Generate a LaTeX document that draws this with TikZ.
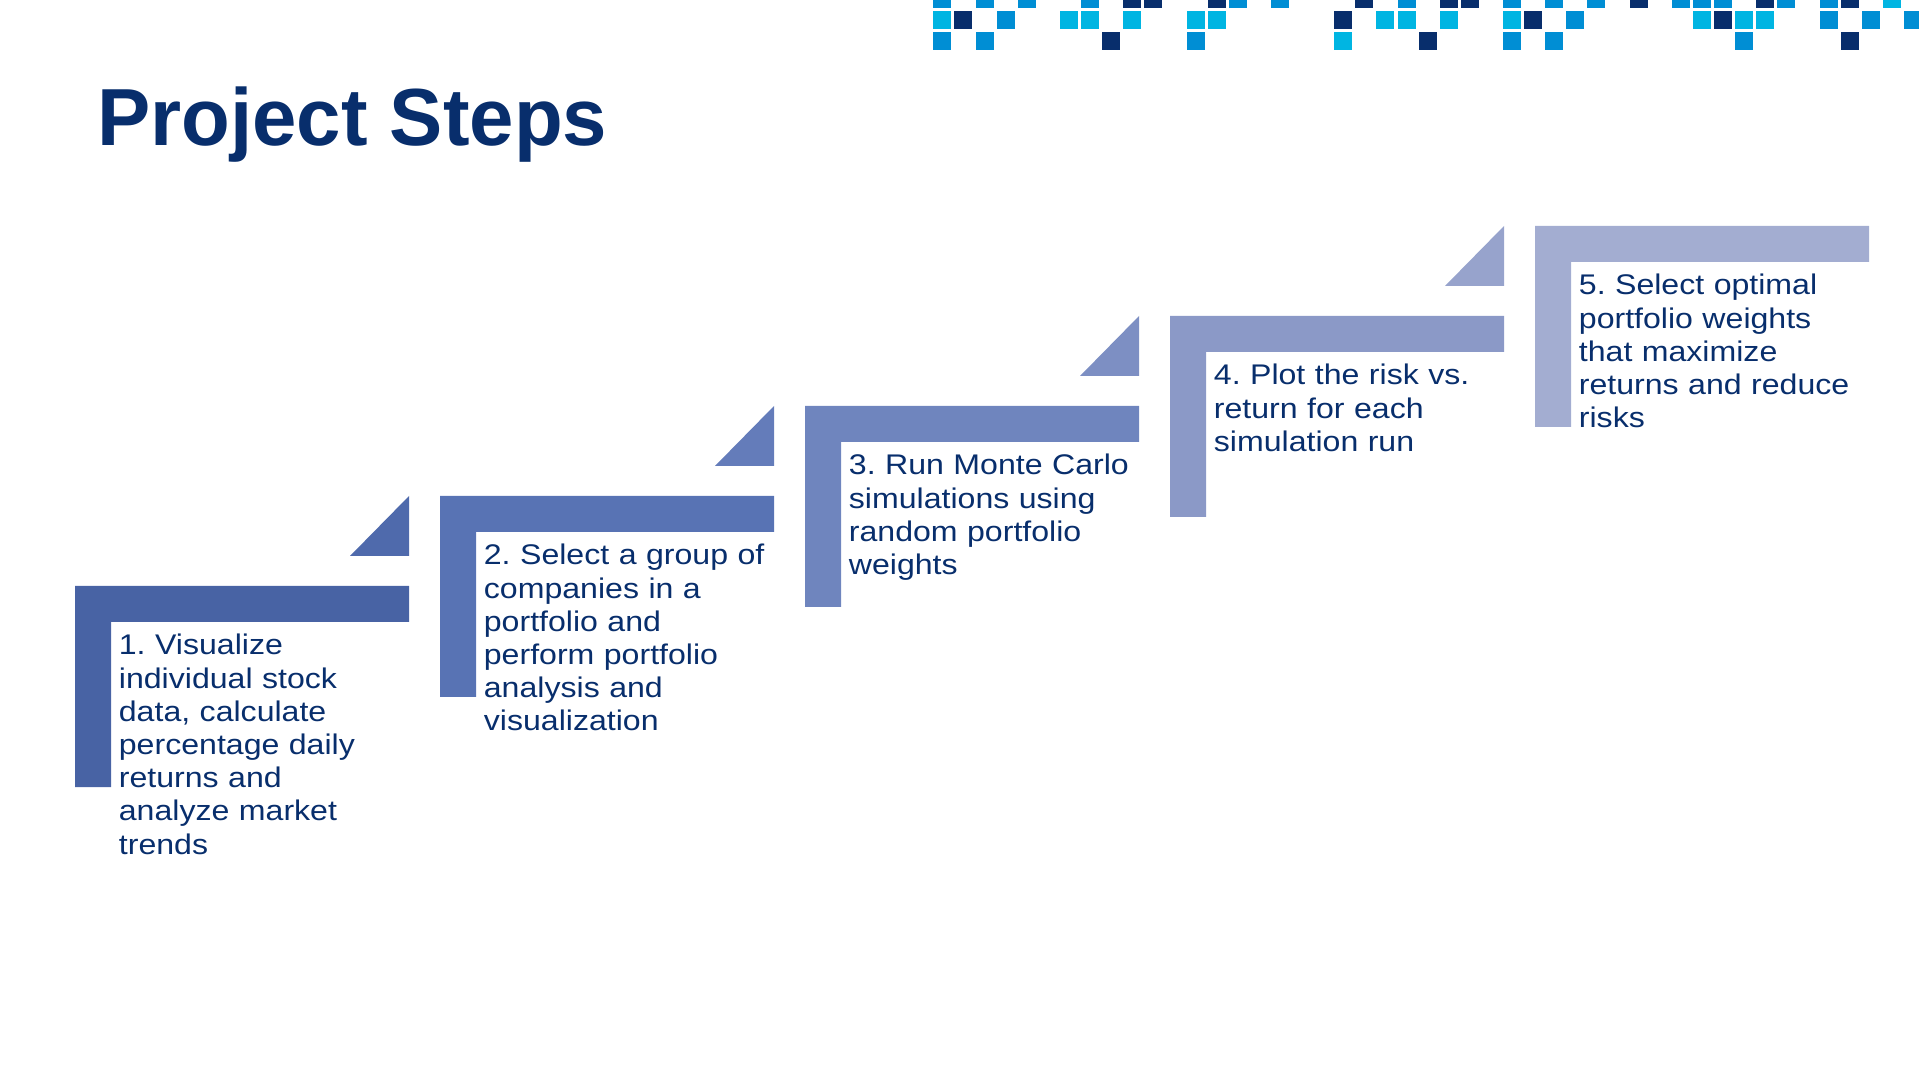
\documentclass[tikz,border=0pt]{standalone}
\usepackage{fontspec}
\setmainfont{Liberation Sans}
\newfontfamily\notefont[FakeStretch=1.13]{Liberation Sans}
\newfontfamily\headfont[FakeStretch=0.985]{Liberation Sans Bold}

\definecolor{navy}{RGB}{8,46,108}
\definecolor{pixblue}{RGB}{0,142,212}
\definecolor{pixcyan}{RGB}{0,181,226}
\definecolor{stepA}{RGB}{72,99,164}
\definecolor{triA}{RGB}{79,106,172}
\definecolor{stepB}{RGB}{88,115,180}
\definecolor{triB}{RGB}{100,124,186}
\definecolor{stepC}{RGB}{111,133,190}
\definecolor{triC}{RGB}{125,143,195}
\definecolor{stepD}{RGB}{139,153,199}
\definecolor{triD}{RGB}{151,163,204}
\definecolor{stepE}{RGB}{163,173,209}

\tikzset{
  stepnote/.style={anchor=base west, inner sep=0pt, text width=330, align=left,
    text=navy, font=\notefont\fontsize{14.2}{16.6}\selectfont},
}

\begin{document}
\frenchspacing
\begin{tikzpicture}[x=0.5pt,y=-0.5pt]
                    \useasboundingbox (0,0) rectangle (1919,1080);
                    \clip (0,0) rectangle (1919,1080);

                    % pixel band at the top
                    \foreach \c in {0,2,4,7,14,16,22,27,29,31,35,36,37,40,42}
                        \fill[pixblue] (933.3+21.1*\c,-9.7) rectangle++(18,18);
                    \foreach \c in {9,10,13,20,24,25,33,39,43}
                        \fill[navy] (933.3+21.1*\c,-9.7) rectangle++(18,18);
                    \fill[pixcyan] (933.3+21.1*45,-9.7) rectangle++(18,18);
                    \foreach \c in {0,6,7,9,12,13,21,22,24,27,36,38,39}
                        \fill[pixcyan] (933.3+21.1*\c,11.3) rectangle++(18,18);
                    \foreach \c in {1,19,28,37}
                        \fill[navy] (933.3+21.1*\c,11.3) rectangle++(18,18);
                    \foreach \c in {3,30,42,44,46}
                        \fill[pixblue] (933.3+21.1*\c,11.3) rectangle++(18,18);
                    \foreach \c in {0,2,12,27,29,38}
                        \fill[pixblue] (933.3+21.1*\c,32.3) rectangle++(18,18);
                    \foreach \c in {8,23,43}
                        \fill[navy] (933.3+21.1*\c,32.3) rectangle++(18,18);
                    \fill[pixcyan] (933.3+21.1*19,32.3) rectangle++(18,18);

                    \node[anchor=base west, inner sep=0pt, text=navy,
                          font=\headfont\fontsize{40.5}{48}\selectfont] (title) at (97,146) {Project Steps};

                    % steps
                    \fill[stepA] (75,586) -- ++(334,0) -- ++(0,36) -- ++(-298,0) -- ++(0,165) -- ++(-36,0) -- cycle;
                    \fill[triA] (409,496) -- ++(0,60) -- ++(-59,0) -- cycle;
                    \fill[stepB] (440,496) -- ++(334,0) -- ++(0,36) -- ++(-298,0) -- ++(0,165) -- ++(-36,0) -- cycle;
                    \fill[triB] (774,406) -- ++(0,60) -- ++(-59,0) -- cycle;
                    \fill[stepC] (805,406) -- ++(334,0) -- ++(0,36) -- ++(-298,0) -- ++(0,165) -- ++(-36,0) -- cycle;
                    \fill[triC] (1139,316) -- ++(0,60) -- ++(-59,0) -- cycle;
                    \fill[stepD] (1170,316) -- ++(334,0) -- ++(0,36) -- ++(-298,0) -- ++(0,165) -- ++(-36,0) -- cycle;
                    \fill[triD] (1504,226) -- ++(0,60) -- ++(-59,0) -- cycle;
                    \fill[stepE] (1535,226) -- ++(334,0) -- ++(0,36) -- ++(-298,0) -- ++(0,165) -- ++(-36,0) -- cycle;

                    \node[stepnote] (note1) at (118.5,655) {1. Visualize\\individual stock\\data, calculate\\percentage daily\\returns and\\analyze market\\trends};
                    \node[stepnote] (note2) at (483.5,565) {2. Select a group of\\companies in a\\portfolio and\\perform portfolio\\analysis and\\visualization};
                    \node[stepnote] (note3) at (848.5,475) {3. Run Monte Carlo\\simulations using\\random portfolio\\weights};
                    \node[stepnote] (note4) at (1213.5,385) {4. Plot the risk vs.\\return for each\\simulation run};
                    \node[stepnote] (note5) at (1578.5,295) {5. Select optimal\\portfolio weights\\that maximize\\returns and reduce\\risks};

                \end{tikzpicture}
\end{document}
